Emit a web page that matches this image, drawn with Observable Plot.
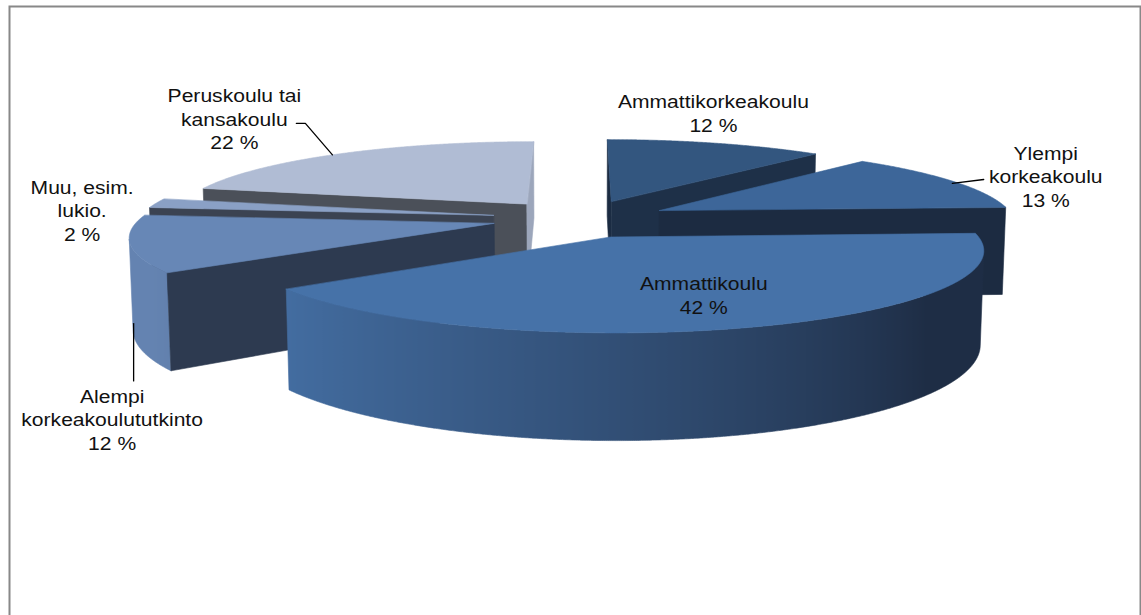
<!DOCTYPE html>
<html><head><meta charset="utf-8">
<script src="https://cdn.jsdelivr.net/npm/d3@7"></script>
<script src="https://cdn.jsdelivr.net/npm/@observablehq/plot@0.6"></script>
<style>body{margin:0;background:#fff;} #chart{width:1141px;height:615px;overflow:hidden;}</style>
</head><body><div id="chart"></div>
<script>
// ---- data ----
const categories = ["Ammattikorkeakoulu", "Ylempi korkeakoulu", "Ammattikoulu", "Alempi korkeakoulututkinto", "Muu, esim. lukio.", "Peruskoulu tai kansakoulu"];
const labelLines = ["Ammattikorkeakoulu", "Ylempi\nkorkeakoulu", "Ammattikoulu", "Alempi\nkorkeakoulututkinto", "Muu, esim.\nlukio.", "Peruskoulu tai\nkansakoulu"];
const shares = [12, 13, 42, 12, 2, 22];

// ---- styles ----
const topColors = ["#33567f", "#3d6699", "#4672a8", "#6787b6", "#8aa0c5", "#b0bcd4"];
const cutColors = ["#1e3048", "#1c2b41", "#1e2d45", "#2d3a50", "#3b4352", "#4b5059"];

// ---- layout ----
const W = 1141, H = 615;
const view = {D: 6.6, tilt: 12.3, thick: 0.259, explode: 0.25, scale: 2343, cx: 580, cy: 218};
const labelAngle = [14, 66.9, 161, 201, 273.8, 323.9];
const labelRadius = [1.583, 1.31, 0.676, 1.97, 1.185, 1.794];
const leaders = [
  {slice: 5, angle: 320, r: 1, h: 0, via: [[71, 5], [62, 5]]},
  {slice: 1, angle: 66.5, r: 0.98, h: 0, via: [[-62, 4]]},
  {slice: 3, angle: 255, r: 1, h: -0.85, vertical: -38}
];

const rad = Math.PI / 180;
const s = Math.sin(view.tilt * rad), c = Math.cos(view.tilt * rad);
const F = view.scale, T = view.thick, e = view.explode;
const cam = [0, view.D * s, -view.D * c];
function proj([X, Y, Z]) { const w = view.D + Z * c - Y * s; return {px: X / w, py: (Y * c + Z * s) / w}; }
const total = d3.sum(shares);
let acc = 0;
const slices = shares.map((v, i) => {
  const a0 = acc / total * 360; acc += v; const a1 = acc / total * 360;
  const mid = (a0 + a1) / 2;
  return {i, a0, a1, mid, ox: e * Math.sin(mid * rad), oz: e * Math.cos(mid * rad)};
});
function world(sl, r, th, Y) { return [sl.ox + r * Math.sin(th * rad), Y, sl.oz + r * Math.cos(th * rad)]; }
function visible(n, p) { return (cam[0] - p[0]) * n[0] + (cam[1] - p[1]) * n[1] + (cam[2] - p[2]) * n[2] > 0; }
const toScreenX = px => view.cx + F * px;
function wallShade(th) { const t = Math.max(0, Math.min(1, (240 - th) / 110)); return 0.05 + 0.95 * Math.pow(t, 1.2); }
function mixColor(a, b, t) {
  const A = d3.rgb(a), B = d3.rgb(b);
  const f = (x, y) => Math.max(0, Math.min(255, x + (y - x) * t));
  return d3.rgb(f(A.r, B.r), f(A.g, B.g), f(A.b, B.b)).formatHex();
}

const faceMarks = [];
const gradients = [];
const order = slices.slice().sort((p, q) => (q.oz + 0.6 * Math.cos(q.mid * rad)) - (p.oz + 0.6 * Math.cos(p.mid * rad)));
const lineOpts = (fill) => ({x: "px", y: "py", fill, stroke: fill, strokeWidth: 0.6, strokeLinejoin: "round", curve: "linear-closed"});
for (const sl of order) {
  const top = topColors[sl.i], cut = cutColors[sl.i];
  // outer wall
  const vis = [];
  for (let th = sl.a0; th <= sl.a1 + 1e-9; th += 0.25) {
    const t = Math.min(th, sl.a1);
    const n = [Math.sin(t * rad), 0, Math.cos(t * rad)];
    if (visible(n, world(sl, 1, t, -T / 2))) vis.push(t);
  }
  if (vis.length > 1) {
    const topPts = vis.map(t => proj(world(sl, 1, t, 0)));
    const botPts = vis.map(t => proj(world(sl, 1, t, -T))).reverse();
    const xs = topPts.map(p => toScreenX(p.px));
    const x0 = d3.min(xs), x1 = d3.max(xs);
    const stops = vis.map((t, k) => ({offset: (xs[k] - x0) / Math.max(1, x1 - x0), color: mixColor(top, cut, wallShade(t))}))
      .sort((a, b) => a.offset - b.offset);
    const id = "wall-" + sl.i;
    gradients.push({id, x0, x1, stops});
    faceMarks.push(Plot.line(topPts.concat(botPts), lineOpts(`url(#${id})`)));
  }
  // radial cut faces
  const faces = [
    {th: sl.a0, n: [-Math.cos(sl.a0 * rad), 0, Math.sin(sl.a0 * rad)]},
    {th: sl.a1, n: [Math.cos(sl.a1 * rad), 0, -Math.sin(sl.a1 * rad)]}
  ];
  for (const f of faces) {
    if (!visible(f.n, world(sl, 0.5, f.th, -T / 2))) continue;
    const pts = [world(sl, 0, 0, 0), world(sl, 1, f.th, 0), world(sl, 1, f.th, -T), world(sl, 0, 0, -T)].map(proj);
    let col = cut;
    if (f.n[0] > 0.95) col = mixColor(top, cut, 0.2);
    else if (f.n[0] < -0.95) col = mixColor(top, cut, 1.12);
    faceMarks.push(Plot.line(pts, lineOpts(col)));
  }
  // top
  const tp = [proj(world(sl, 0, 0, 0))];
  for (let th = sl.a0; th <= sl.a1 + 1e-9; th += 0.25) tp.push(proj(world(sl, 1, Math.min(th, sl.a1), 0)));
  tp.push(proj(world(sl, 1, sl.a1, 0)));
  faceMarks.push(Plot.line(tp, lineOpts(top)));
}

// labels
const labels = slices.map(sl => {
  const p = proj(world(sl, labelRadius[sl.i], labelAngle[sl.i], 0));
  return {px: p.px, py: p.py, text: `${labelLines[sl.i]}\n${shares[sl.i]} %`};
});
const leaderLines = leaders.map(L => {
  const sl = slices[L.slice];
  const a = proj(world(sl, L.r, L.angle, L.h * T));
  const lab = labels[L.slice];
  const pts = [a];
  if (L.via) for (const [dx, dy] of L.via) pts.push({px: lab.px + dx / F, py: lab.py - dy / F});
  if (L.vertical != null) pts.push({px: a.px, py: lab.py - L.vertical / F});
  return pts;
});

const chart = Plot.plot({
  width: W, height: H,
  marginLeft: 0, marginRight: 0, marginTop: 0, marginBottom: 0,
  x: {type: "linear", domain: [(0 - view.cx) / F, (W - view.cx) / F], range: [0, W], axis: null},
  y: {type: "linear", domain: [view.cy / F, (view.cy - H) / F], range: [0, H], axis: null},
  style: {background: "#fff"},
  marks: [
    ...faceMarks,
    ...leaderLines.map(pts => Plot.line(pts, {x: "px", y: "py", stroke: "#000", strokeWidth: 1.3})),
    Plot.text(labels, {x: "px", y: "py", text: "text", fontSize: 18.5, lineHeight: 1.27, fill: "#111",
      fontFamily: "'Liberation Sans', Arial, sans-serif", textAnchor: "middle"}),
    Plot.frame({stroke: "#888", strokeWidth: 2, insetLeft: 9, insetTop: 6, insetRight: 1, insetBottom: -6})
  ]
});

const svg = d3.select(chart);
const defs = svg.insert("defs", ":first-child");
for (const g of gradients) {
  const lg = defs.append("linearGradient").attr("id", g.id).attr("gradientUnits", "userSpaceOnUse")
    .attr("x1", g.x0).attr("x2", g.x1).attr("y1", 0).attr("y2", 0);
  for (const st of g.stops) lg.append("stop").attr("offset", st.offset).attr("stop-color", st.color);
}
svg.selectAll("text").each(function () {
  const t = this.getAttribute("transform");
  if (t) this.setAttribute("transform", t + " scale(1.14,1)");
  else {
    const x = this.getAttribute("x") || 0, y = this.getAttribute("y") || 0;
    this.removeAttribute("x"); this.removeAttribute("y");
    this.setAttribute("transform", `translate(${x},${y}) scale(1.14,1)`);
  }
});
document.getElementById("chart").appendChild(chart);
</script>
</body></html>
